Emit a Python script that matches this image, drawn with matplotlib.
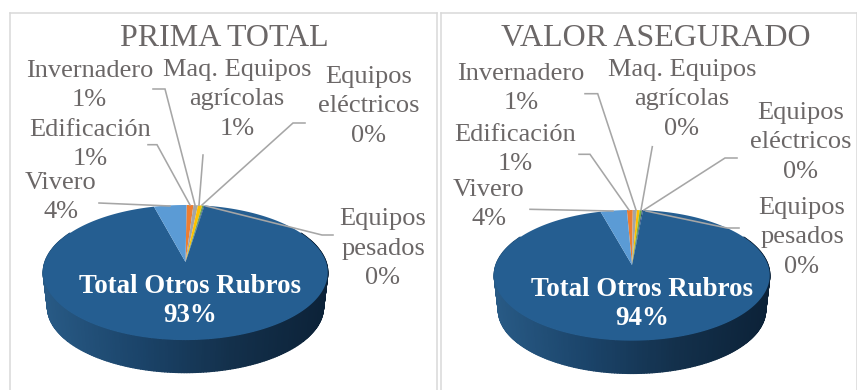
import numpy as np
import matplotlib
matplotlib.use('Agg')
import matplotlib.pyplot as plt
from matplotlib.collections import PolyCollection
from matplotlib.colors import LinearSegmentedColormap

plt.rcParams['font.family'] = ['Liberation Serif', 'DejaVu Serif']

# drawing order, clockwise from the top of the pie
categories = ['Edificación', 'Invernadero', 'Maq. Equipos\nagrícolas', 'Equipos\neléctricos',
              'Equipos\npesados', 'Total Otros Rubros', 'Vivero']
prima = [0.9, 0.6, 0.55, 0.2, 0.1, 93.35, 4.3]
valor = [0.8, 0.55, 0.4, 0.3, 0.15, 94.2, 3.6]
colors = ['#ED7D31', '#A5A5A5', '#FFC000', '#70AD47', '#264478', '#255E91', '#5B9BD5']

TEXT = '#6B6767'
LINE = '#A6A6A6'
wall_cmap = LinearSegmentedColormap.from_list('wall', ['#285A85', '#1B446A', '#13304B', '#0C2238'])


def project(theta, g):
    # circle -> tilted face, far side is squeezed by the perspective
    u, v = np.sin(theta), np.cos(theta)
    w = 1 + g['a'] * v
    return g['cx'] + g['rx'] * u / w, g['cy'] - g['ry'] * v / w


def draw_pie(ax, values, g, title, label_pos, leaders):
    t = np.radians(np.linspace(62, 298, 240))
    x, y = project(t, g)
    bx = g['cx'] + (x - g['cx']) * 0.97
    by = g['cy'] + (y - g['cy']) * 0.97 + g['depth']
    quads = [[(x[i], y[i]), (x[i + 1], y[i + 1]), (bx[i + 1], by[i + 1]), (bx[i], by[i])]
             for i in range(len(t) - 1)]
    shade = (x[:-1] - x.min()) / (x.max() - x.min())
    wall = PolyCollection(quads, array=shade, cmap=wall_cmap, edgecolors='face', linewidths=1.0)
    wall.set_clim(0, 1)
    ax.add_collection(wall)

    start = np.radians(g['rot'])
    for val, col in zip(values, colors):
        sweep = 2 * np.pi * val / 100
        th = np.linspace(start, start + sweep, max(3, int(val * 6)))
        px, py = project(th, g)
        ax.fill(np.r_[g['cx'], px], np.r_[g['cy'], py], color=col, lw=0)
        start += sweep

    for pts in leaders:
        ax.plot(*zip(*pts), color=LINE, lw=1.15, solid_joinstyle='miter')

    ax.text(g['title_x'], 38, title, color=TEXT, fontsize=23, ha='center', va='center')
    for name, val in zip(categories, values):
        s = f'{name}\n{val:.0f}%'
        lx, ly = label_pos[name]
        if name == 'Total Otros Rubros':
            ax.text(lx, ly + 3, s, color='white', fontsize=19.4, fontweight='bold', ha='center', va='center',
                    linespacing=1.2)
        else:
            ax.text(lx, ly + 2.5, s, color=TEXT, fontsize=19, ha='center', va='center', linespacing=1.47)


fig = plt.figure(figsize=(8.57, 3.90), dpi=100)
ax = fig.add_axes([0, 0, 1, 1])
ax.set_xlim(0, 857)
ax.set_ylim(390, 0)
ax.axis('off')

# panel frames
for fx in [(10, 437.5), (441, 857)]:
    ax.plot([fx[0], fx[0]], [390, 12.5], color='#D9D9D9', lw=1.1)
    ax.plot([fx[0], fx[1]], [12.5, 12.5], color='#D9D9D9', lw=1.1)
    ax.plot([fx[1], fx[1]], [12.5, 390], color='#D9D9D9', lw=1.1)

left = dict(cx=185.5, cy=262, rx=140.5, ry=65.9, a=0.156, depth=34.8, rot=0.5, title_x=224)
right = dict(cx=632, cy=265, rx=136, ry=63.7, a=0.158, depth=35, rot=-2.5, title_x=656)

draw_pie(ax, prima, left, 'PRIMA TOTAL',
         {'Invernadero': (89.5, 83), 'Edificación': (90, 142), 'Vivero': (61, 195),
          'Maq. Equipos\nagrícolas': (237, 97), 'Equipos\neléctricos': (369, 104),
          'Equipos\npesados': (383, 246), 'Total Otros Rubros': (190, 298)},
         [[(99, 203), (170, 206)],
          [(148, 144.7), (157, 144.7), (190, 205)],
          [(153, 89), (165, 89), (195, 205)],
          [(203, 155), (199, 205)],
          [(305, 123), (293, 123), (202, 205)],
          [(333, 235), (322, 235), (206, 206)]])

draw_pie(ax, valor, right, 'VALOR ASEGURADO',
         {'Invernadero': (521, 86), 'Edificación': (515, 147), 'Vivero': (489, 202),
          'Maq. Equipos\nagrícolas': (682, 97), 'Equipos\neléctricos': (801, 140),
          'Equipos\npesados': (802, 235), 'Total Otros Rubros': (642, 301)},
         [[(530, 209.3), (613, 211)],
          [(579, 154.3), (590, 154.3), (629, 210)],
          [(585, 93.7), (597.7, 93.7), (636, 210)],
          [(652.3, 146.7), (641, 210)],
          [(737, 158), (725, 158), (644, 210)],
          [(739, 228), (727, 228), (646, 211)]])

plt.savefig('out.png', dpi=100)
